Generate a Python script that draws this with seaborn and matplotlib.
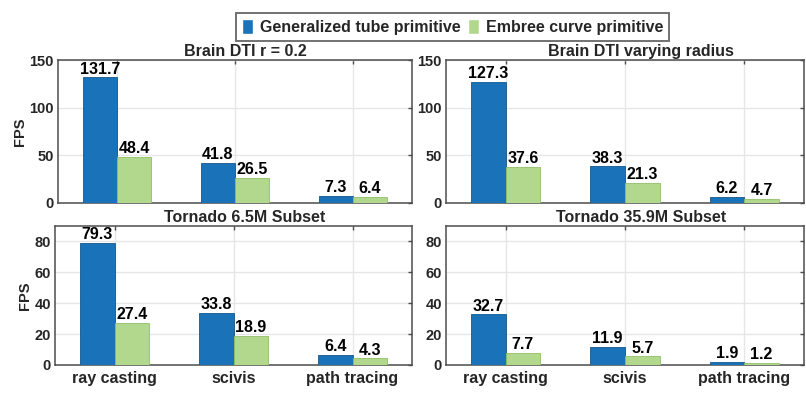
import pandas as pd
import matplotlib.pyplot as plt
import seaborn as sns

# Data
methods = ["ray casting", "scivis", "path tracing"]
series = ["Generalized tube primitive", "Embree curve primitive"]
titles = ["Brain DTI r = 0.2", "Brain DTI varying radius",
          "Tornado 6.5M Subset", "Tornado 35.9M Subset"]
tube_fps = [
    [131.7, 41.8, 7.3],
    [127.3, 38.3, 6.2],
    [79.3, 33.8, 6.4],
    [32.7, 11.9, 1.9],
]
embree_fps = [
    [48.4, 26.5, 6.4],
    [37.6, 21.3, 4.7],
    [27.4, 18.9, 4.3],
    [7.7, 5.7, 1.2],
]
top_ticks = [0, 50, 100, 150]
bottom_ticks = [0, 20, 40, 60, 80]

colors = ["#1a72b8", "#b1d88c"]
edge_colors = ["#14568c", "#8fbf66"]
text_gray = "#262626"
axis_gray = "#4d4d4d"

sns.set_style("white")
plt.rcParams["font.family"] = ["Liberation Sans", "DejaVu Sans"]
plt.rcParams["font.weight"] = "bold"

fig = plt.figure(figsize=(8.06, 3.93), dpi=100)
W, H = 806, 393


def px_axes(left, top, right, bottom):
    return fig.add_axes([left / W, 1 - bottom / H, (right - left) / W, (bottom - top) / H])


axes = [
    px_axes(58, 60, 412, 203),
    px_axes(446, 60, 804, 203),
    px_axes(55, 226, 412, 365),
    px_axes(446, 226, 804, 365),
]

for i, ax in enumerate(axes):
    df = pd.DataFrame({
        "method": methods * 2,
        "series": [series[0]] * 3 + [series[1]] * 3,
        "fps": tube_fps[i] + embree_fps[i],
    })
    sns.barplot(data=df, x="method", y="fps", hue="series", order=methods,
                hue_order=series, palette=colors, saturation=1, width=0.58,
                ax=ax, legend=(i == 0), zorder=3)
    for cont, ec in zip(ax.containers, edge_colors):
        for patch in cont:
            patch.set_edgecolor(ec)
            patch.set_linewidth(0.6)
        ax.bar_label(cont, fmt="%.1f", padding=0.5, fontsize=11.5,
                     fontweight="bold", color="black", zorder=4)

    ax.set_xlim(-0.5, 2.5)
    if i < 2:
        ax.set_ylim(0, 150)
        ax.set_yticks(top_ticks)
        ax.set_xticklabels([])
    else:
        ax.set_ylim(0, 90)
        ax.set_yticks(bottom_ticks)
    ax.set_xlabel("")
    ax.set_ylabel("FPS" if i % 2 == 0 else "", fontsize=10.5,
                  fontweight="bold", color=text_gray, labelpad=2)
    # titles sit a little right of centre in the original
    ax.set_title(titles[i], fontsize=11.5, fontweight="bold",
                 color=text_gray, pad=3, x=0.53 if i % 2 == 0 else 0.545)

    ax.grid(True, color="#e6e6e6", linewidth=1, zorder=0)
    ax.set_axisbelow(True)
    ax.tick_params(direction="in", length=3, width=1, color=axis_gray,
                   top=True, right=True, labelsize=10.5,
                   labelcolor=text_gray, pad=3)
    ax.tick_params(axis="x", labelsize=11.5, pad=4)
    for lab in ax.get_xticklabels() + ax.get_yticklabels():
        lab.set_fontweight("bold")
    for spine in ax.spines.values():
        spine.set_visible(True)
        spine.set_color(axis_gray)
        spine.set_linewidth(1.1)

handles, labels = axes[0].get_legend_handles_labels()
axes[0].get_legend().remove()
leg = fig.legend(handles, labels, loc="upper center", ncol=2,
                 bbox_to_anchor=(452.5 / W, 1 - 5 / H), frameon=True,
                 fancybox=False, fontsize=11.5, handlelength=0.7,
                 handleheight=1.0, handletextpad=0.4, columnspacing=0.5,
                 borderpad=0.4, edgecolor=axis_gray)
leg.get_frame().set_linewidth(1.4)
for t in leg.get_texts():
    t.set_fontweight("bold")
    t.set_color(text_gray)

fig.savefig("out.png", dpi=100)
